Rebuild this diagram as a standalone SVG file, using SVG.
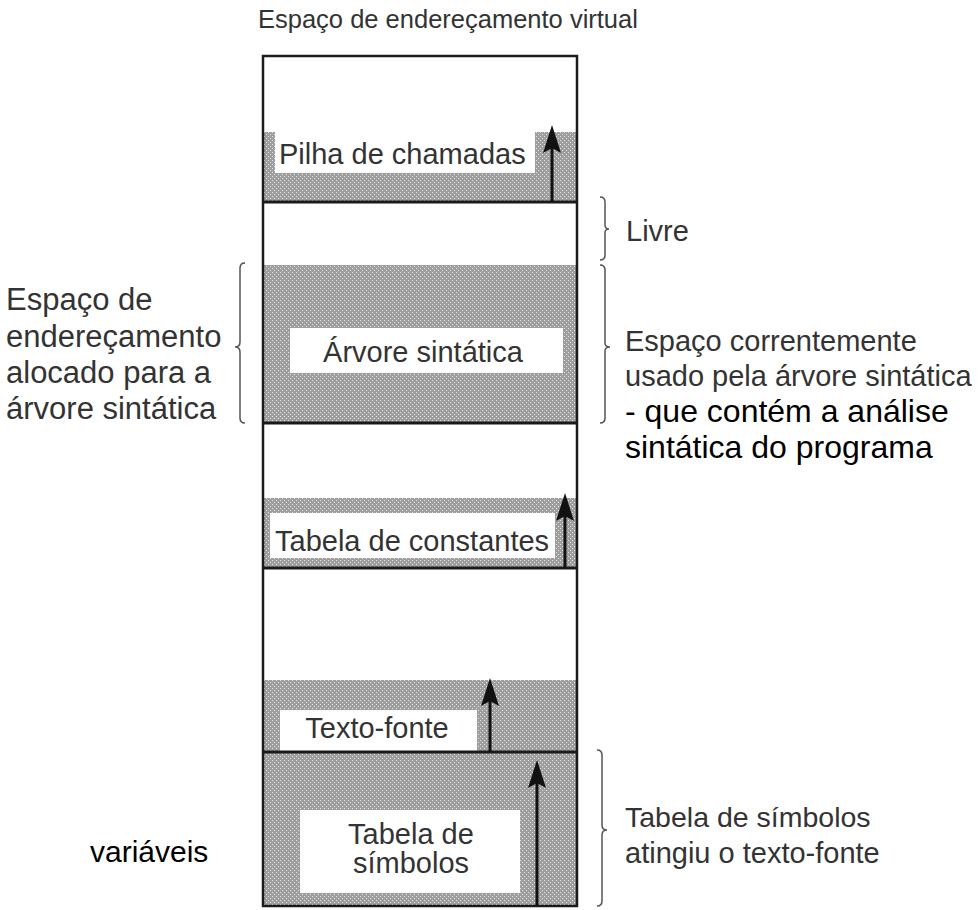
<svg xmlns="http://www.w3.org/2000/svg" width="979" height="910" viewBox="0 0 979 910">
<defs>
<pattern id="dots" width="4" height="4" patternUnits="userSpaceOnUse">
<rect width="4" height="4" fill="#9e9e9e"/>
<rect x="0" y="0" width="1" height="1" fill="#e6e6e6"/>
<rect x="2" y="2" width="1" height="1" fill="#e6e6e6"/>
</pattern>
<marker id="ah" viewBox="0 0 28 18" refX="18" refY="9" markerWidth="28" markerHeight="18" markerUnits="userSpaceOnUse" orient="auto">
<path d="M0,0 L28,9 L0,18 L5,9 z" fill="#111"/>
</marker>
<style>
.lbl{font-family:"Liberation Sans",Arial,Helvetica,sans-serif;font-size:29px;fill:#333}
.ttl{font-family:"Liberation Sans",Arial,Helvetica,sans-serif;font-size:25.5px;fill:#333}
.lft{font-family:"Liberation Sans",Arial,Helvetica,sans-serif;font-size:31px;fill:#333}
.blk{font-family:"Liberation Sans",Arial,Helvetica,sans-serif;font-size:32px;fill:#000}
.var{font-family:"Liberation Sans",Arial,Helvetica,sans-serif;font-size:30px;fill:#000}
.gray{fill:url(#dots)}
.white{fill:#fff}
.div{stroke:#1a1a1a;stroke-width:3}
.arr{stroke:#111;stroke-width:3;fill:none;marker-end:url(#ah)}
.brace{stroke:#555;stroke-width:1.5;fill:none}
</style>
</defs>
<rect width="979" height="910" fill="#fff"/>
<text class="ttl" x="258" y="28">Espaço de endereçamento virtual</text>

<g id="pilha">
<rect class="gray" x="263" y="132" width="314" height="70"/>
<rect class="white" x="275" y="130" width="260" height="43"/>
<text class="lbl" x="279" y="164">Pilha de chamadas</text>
</g>
<g id="livre">
<rect class="white" x="263" y="202" width="314" height="63"/>
</g>
<g id="arvore">
<rect class="gray" x="263" y="265" width="314" height="158"/>
<rect class="white" x="290" y="328" width="273" height="45"/>
<text class="lbl" x="423" y="362" text-anchor="middle">Árvore sintática</text>
</g>
<g id="constantes">
<rect class="gray" x="263" y="498" width="314" height="70"/>
<rect class="white" x="270" y="513" width="285" height="45"/>
<text class="lbl" x="275" y="551">Tabela de constantes</text>
</g>
<g id="textofonte">
<rect class="gray" x="263" y="680" width="314" height="72"/>
<rect class="white" x="280" y="710" width="197" height="42"/>
<text class="lbl" x="377" y="738" text-anchor="middle">Texto-fonte</text>
</g>
<g id="simbolos">
<rect class="gray" x="263" y="752" width="314" height="154"/>
<rect class="white" x="300" y="810" width="220" height="83"/>
<text class="lbl" x="411" y="844" text-anchor="middle">Tabela de</text>
<text class="lbl" x="411" y="873" text-anchor="middle">símbolos</text>
</g>
<g id="frame">
<rect x="263" y="56" width="314" height="850" fill="none" stroke="#1a1a1a" stroke-width="2.5"/>
<line class="div" x1="263" y1="202" x2="577" y2="202"/>
<line class="div" x1="263" y1="423" x2="577" y2="423"/>
<line class="div" x1="263" y1="568" x2="577" y2="568"/>
<line class="div" x1="263" y1="752" x2="577" y2="752"/>
</g>

<g id="connectors">
<line class="arr" x1="552" y1="202" x2="552" y2="135"/>
<line class="arr" x1="565" y1="568" x2="565" y2="503"/>
<line class="arr" x1="490" y1="752" x2="490" y2="688"/>
<line class="arr" x1="537" y1="906" x2="537" y2="770"/>
<path class="brace" d="M600,197 q5,0 5,5 L605,225 q0,4 4,4 q-4,0 -4,4 L605,255 q0,5 -5,5"/>
<path class="brace" d="M600,265 q5,0 5,5 L605,343 q0,4 5,4 q-5,0 -5,4 L605,418 q0,5 -5,5"/>
<path class="brace" d="M245,263 q-5,0 -5,5 L240,342 q0,5 -5,5 q5,0 5,5 L240,418 q0,5 5,5"/>
<path class="brace" d="M597,750 q5,0 5,5 L602,825 q0,5 5,5 q-5,0 -5,5 L602,901 q0,5 -5,5"/>
</g>

<g id="labels">
<text class="lbl" x="626" y="241">Livre</text>
<text class="lft" x="6" y="310">Espaço de</text>
<text class="lft" x="6" y="347">endereçamento</text>
<text class="lft" x="6" y="383">alocado para a</text>
<text class="lft" x="6" y="419">árvore sintática</text>
<text class="lbl" x="625" y="351">Espaço correntemente</text>
<text class="lbl" x="625" y="386">usado pela árvore sintática</text>
<text class="blk" x="625" y="422">- que contém a análise</text>
<text class="blk" x="625" y="458">sintática do programa</text>
<text class="lbl" x="625" y="827" style="font-size:28.5px">Tabela de símbolos</text>
<text class="lbl" x="625" y="863">atingiu o texto-fonte</text>
<text class="var" x="90" y="862">variáveis</text>
</g>
</svg>
